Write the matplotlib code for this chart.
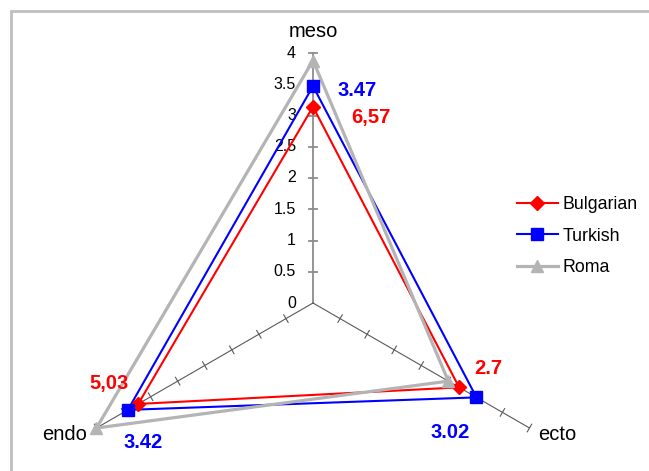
import numpy as np
import matplotlib
matplotlib.use("Agg")
import matplotlib.pyplot as plt
from matplotlib.patches import Rectangle

plt.rcParams['font.family'] = ['Liberation Sans', 'DejaVu Sans']

# --- data ---
categories = ['meso', 'ecto', 'endo']
bulgarian = [3.14, 2.70, 3.23]
turkish = [3.47, 3.02, 3.42]
roma = [3.88, 2.50, 4.00]
value_ticks = [0, 0.5, 1, 1.5, 2, 2.5, 3, 3.5, 4]
tick_labels = ['0', '0.5', '1', '1.5', '2', '2.5', '3', '3.5', '4']
bulgarian_text = ['6,57', '2.7', '5,03']
turkish_text = ['3.47', '3.02', '3.42']

# spoke directions (degrees): meso up, ecto lower right, endo lower left
angles = np.deg2rad([90, -30, 210])
rmax = 4.0


def to_xy(values):
    v = np.asarray(values, dtype=float)
    return v * np.cos(angles), v * np.sin(angles)


W, H = 649, 471
fig = plt.figure(figsize=(W / 100, H / 100), dpi=100)
ax = fig.add_axes([0, 0, 1, 1])
ax.axis('off')

# pixel scale: 62.5 px per unit, centre at (313, 303)
ppu = 62.5
cx, cy = 313, 303
ax.set_xlim(-cx / ppu, (W - cx) / ppu)
ax.set_ylim(-(H - cy) / ppu, cy / ppu)

# chart frame (only top/left edges visible)
fig.patches.append(Rectangle((10.8 / W, -0.1), 1.2, 1.1 - 10.5 / H,
                             transform=fig.transFigure, fill=False,
                             edgecolor='#bfbfbf', lw=2.0))

# spokes
for i, a in enumerate(angles):
    col, lw = ('#8c8c8c', 1.3) if i == 0 else ('#595959', 0.8)
    ax.plot([0, rmax * np.cos(a)], [0, rmax * np.sin(a)], color=col, lw=lw, zorder=1)
    # tick marks across the spoke
    px, py = -np.sin(a), np.cos(a)
    half = 0.07
    for t in value_ticks[1:]:
        x0, y0 = t * np.cos(a), t * np.sin(a)
        ax.plot([x0 - half * px, x0 + half * px], [y0 - half * py, y0 + half * py],
                color=col, lw=lw, zorder=1)

# value labels on meso axis
for t, lab in zip(value_ticks, tick_labels):
    ax.text(-17 / ppu, t, lab, ha='right', va='center', fontsize=11.5, color='#000000')

# category labels
ax.text(0, rmax + 0.35, categories[0], ha='center', va='center', fontsize=14.5)
ax.text(rmax * np.cos(angles[1]) + 0.45, rmax * np.sin(angles[1]) - 0.1, categories[1],
        ha='center', va='center', fontsize=14.5)
ax.text(rmax * np.cos(angles[2]) - 0.51, rmax * np.sin(angles[2]) - 0.11, categories[2],
        ha='center', va='center', fontsize=14.5)

# series
series = [
    ('Bulgarian', bulgarian, '#ff0000', 'D', 7, 1.5),
    ('Turkish', turkish, '#0000ff', 's', 8, 1.5),
    ('Roma', roma, '#b4b4b4', '^', 9, 2.3),
]
for name, vals, col, mk, ms, lw in series:
    x, y = to_xy(vals)
    ax.plot(np.append(x, x[0]), np.append(y, y[0]), color=col, lw=lw, zorder=3)
    ax.plot(x, y, ls='none', marker=mk, ms=ms, color=col, zorder=4, label=None)
    ax.plot([], [], color=col, lw=lw, marker=mk, ms=ms, label=name)

# data labels (offsets in pixels from marker)
bx, by = to_xy(bulgarian)
tx, ty = to_xy(turkish)
b_offsets = [(58, -11), (29, 19), (-29, 20)]
t_offsets = [(44, -4), (-26, -35), (15, -33)]
for i in range(3):
    ax.annotate(bulgarian_text[i], (bx[i], by[i]), xytext=b_offsets[i],
                textcoords='offset pixels', ha='center', va='center',
                fontsize=14.5, fontweight='bold', color='#ff0000')
    ax.annotate(turkish_text[i], (tx[i], ty[i]), xytext=t_offsets[i],
                textcoords='offset pixels', ha='center', va='center',
                fontsize=14.5, fontweight='bold', color='#0000ff')

ax.legend(loc='upper left', bbox_to_anchor=(517 / W, 1 - 196 / H),
          bbox_transform=fig.transFigure, frameon=False, fontsize=12.8,
          handlelength=2.3, handletextpad=0.25, labelspacing=0.82,
          borderpad=0, borderaxespad=0)

fig.savefig('out.png', dpi=100)
